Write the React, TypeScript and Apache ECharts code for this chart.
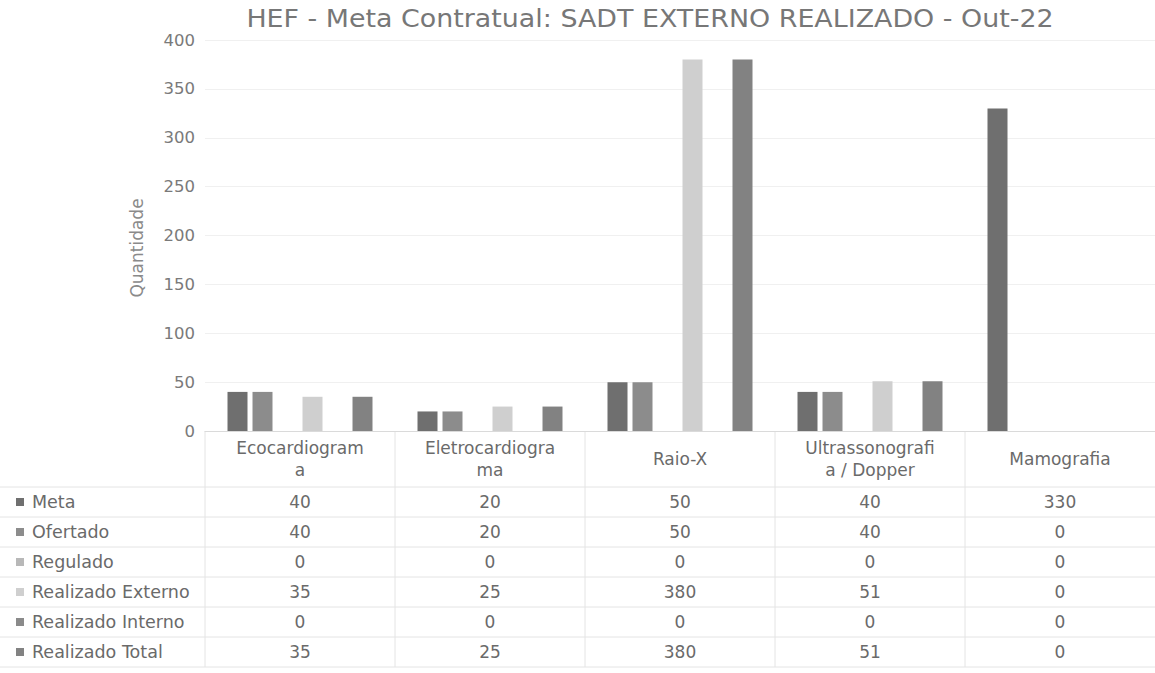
import React, { useEffect, useRef } from "react";
import * as echarts from "echarts";

const categories = ["Ecocardiograma", "Eletrocardiograma", "Raio-X", "Ultrassonografia / Dopper", "Mamografia"];
const headerLabels: Record<string, string> = {
  "Ecocardiograma": "Ecocardiogram\na",
  "Eletrocardiograma": "Eletrocardiogra\nma",
  "Raio-X": "Raio-X",
  "Ultrassonografia / Dopper": "Ultrassonografi\na / Dopper",
  "Mamografia": "Mamografia",
};
const seriesNames = ["Meta", "Ofertado", "Regulado", "Realizado Externo", "Realizado Interno", "Realizado Total"];
const meta = [40, 20, 50, 40, 330];
const ofertado = [40, 20, 50, 40, 0];
const regulado = [0, 0, 0, 0, 0];
const realizadoExterno = [35, 25, 380, 51, 0];
const realizadoInterno = [0, 0, 0, 0, 0];
const realizadoTotal = [35, 25, 380, 51, 0];
const seriesColors = ["#6f6f6f", "#8c8c8c", "#b8b8b8", "#cfcfcf", "#8a8a8a", "#828282"];
const title = "HEF - Meta Contratual: SADT EXTERNO REALIZADO - Out-22";
const yAxisName = "Quantidade";

const FONT = "DejaVu Sans";

export default function App() {
  const ref = useRef<HTMLDivElement>(null);
  useEffect(() => {
    if (!ref.current) return;
    const chart = echarts.init(ref.current, null, { renderer: "svg" });
    const allData = [meta, ofertado, regulado, realizadoExterno, realizadoInterno, realizadoTotal];
    const gridTop = 40;
    const gridBottomY = 431;
    chart.setOption({
      animation: false,
      grid: { left: 205, right: 0, top: gridTop, height: gridBottomY - gridTop, containLabel: false },
      xAxis: {
        type: "category",
        data: categories,
        axisLine: { show: true, lineStyle: { color: "#dadada", width: 1 } },
        axisTick: { show: false },
        axisLabel: {
          margin: 28,
          verticalAlign: "middle",
          fontFamily: FONT,
          fontSize: 17,
          lineHeight: 22,
          color: "#6a6a6a",
          interval: 0,
          formatter: (v: string) => headerLabels[v] || v,
        },
      },
      yAxis: {
        type: "value",
        min: 0,
        max: 400,
        interval: 50,
        axisLine: { show: false },
        axisTick: { show: false },
        axisLabel: { fontFamily: FONT, fontSize: 16.5, color: "#7a7a7a", margin: 10 },
        splitLine: { lineStyle: { color: "#f0f0f0" } },
      },
      series: seriesNames.map((name, i) => ({
        name,
        type: "bar",
        data: allData[i],
        barWidth: 20,
        barGap: "25%",
        itemStyle: { color: seriesColors[i] },
      })),
    });

    const centers = categories.map((c) => chart.convertToPixel({ xAxisIndex: 0 }, c) as number);
    const half = (centers[1] - centers[0]) / 2;
    const rowCenters = [502, 532, 562, 592, 622, 652];
    const rowH = 30;
    const graphics: any[] = [];
    graphics.push({
      type: "text",
      x: 650,
      y: 19,
      scaleX: 1.12,
      style: {
        text: title,
        fontFamily: FONT,
        fontSize: 24,
        fill: "#777777",
        textAlign: "center",
        verticalAlign: "middle",
      },
      silent: true,
    });
    graphics.push({
      type: "text",
      x: 137,
      y: 248,
      rotation: Math.PI / 2,
      style: {
        text: yAxisName,
        fontFamily: FONT,
        fontSize: 17,
        fill: "#8a8a8a",
        textAlign: "center",
        verticalAlign: "middle",
      },
      silent: true,
    });
    const lineYs = [rowCenters[0] - rowH / 2, ...rowCenters.map((y) => y + rowH / 2)];
    lineYs.forEach((y) => {
      graphics.push({
        type: "line",
        shape: { x1: 0, y1: y, x2: 1155, y2: y },
        style: { stroke: "#e4e4e4", lineWidth: 1 },
        silent: true,
      });
    });
    centers.forEach((cx) => {
      graphics.push({
        type: "line",
        shape: { x1: cx - half, y1: gridBottomY, x2: cx - half, y2: lineYs[lineYs.length - 1] },
        style: { stroke: "#e4e4e4", lineWidth: 1 },
        silent: true,
      });
    });
    seriesNames.forEach((name, i) => {
      const y = rowCenters[i];
      graphics.push({
        type: "rect",
        shape: { x: 16, y: y - 4, width: 8, height: 8 },
        style: { fill: seriesColors[i] },
        silent: true,
      });
      graphics.push({
        type: "text",
        x: 32,
        y,
        style: {
          text: name,
          fontFamily: FONT,
          fontSize: 17.5,
          fill: "#6a6a6a",
          textAlign: "left",
          verticalAlign: "middle",
        },
        silent: true,
      });
      allData[i].forEach((v, j) => {
        graphics.push({
          type: "text",
          x: centers[j],
          y,
          style: {
            text: String(v),
            fontFamily: FONT,
            fontSize: 17,
            fill: "#6a6a6a",
            textAlign: "center",
            verticalAlign: "middle",
          },
          silent: true,
        });
      });
    });
    chart.setOption({ graphic: graphics });
    return () => chart.dispose();
  }, []);
  return (
    <div
      ref={ref}
      style={{ position: "fixed", left: 0, top: 0, width: 1155, height: 673, background: "#fff" }}
    />
  );
}
